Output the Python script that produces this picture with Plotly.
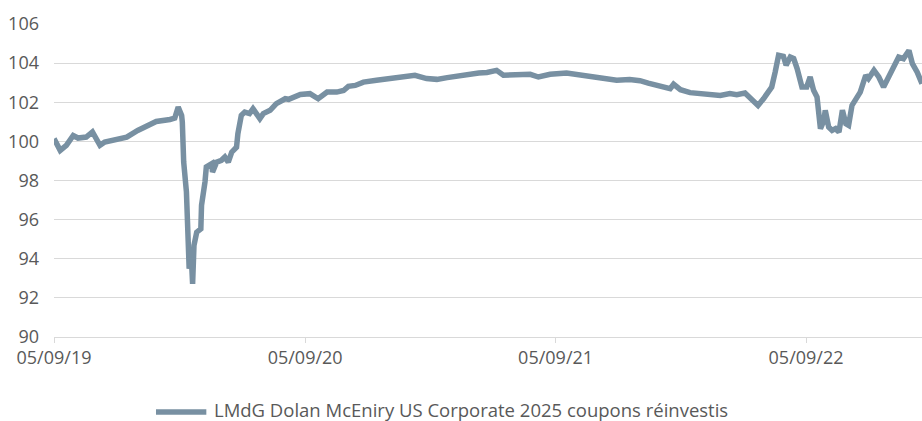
import plotly.graph_objects as go

dates = [
    "2019-09-05", "2019-09-14", "2019-09-23", "2019-10-03", "2019-10-10", "2019-10-22",
    "2019-10-31", "2019-11-11", "2019-11-18", "2019-12-05", "2019-12-20", "2020-01-05",
    "2020-01-23", "2020-02-01", "2020-02-21", "2020-02-28", "2020-03-04", "2020-03-09",
    "2020-03-10", "2020-03-12", "2020-03-16", "2020-03-18", "2020-03-20", "2020-03-23",
    "2020-03-25", "2020-03-27", "2020-03-31", "2020-04-06", "2020-04-07", "2020-04-12",
    "2020-04-14", "2020-04-22", "2020-04-23", "2020-04-29", "2020-05-06", "2020-05-11",
    "2020-05-16", "2020-05-21", "2020-05-28", "2020-05-30", "2020-06-04", "2020-06-09",
    "2020-06-16", "2020-06-21", "2020-07-01", "2020-07-06", "2020-07-16", "2020-07-25",
    "2020-08-07", "2020-08-12", "2020-08-29", "2020-09-12", "2020-09-24", "2020-10-07",
    "2020-10-21", "2020-10-31", "2020-11-07", "2020-11-17", "2020-11-29", "2020-12-18",
    "2021-01-06", "2021-01-26", "2021-02-12", "2021-03-01", "2021-03-16", "2021-03-31",
    "2021-04-19", "2021-05-04", "2021-05-16", "2021-05-28", "2021-06-11", "2021-06-21",
    "2021-07-11", "2021-07-30", "2021-08-11", "2021-08-28", "2021-09-21", "2021-10-06",
    "2021-10-25", "2021-11-14", "2021-12-03", "2021-12-22", "2022-01-06", "2022-01-18",
    "2022-02-04", "2022-02-19", "2022-02-24", "2022-03-06", "2022-03-20", "2022-04-13",
    "2022-05-03", "2022-05-17", "2022-05-27", "2022-06-08", "2022-06-15", "2022-06-27",
    "2022-07-05", "2022-07-10", "2022-07-17", "2022-07-22", "2022-07-27", "2022-08-03",
    "2022-08-07", "2022-08-13", "2022-08-18", "2022-08-23", "2022-08-30", "2022-09-06",
    "2022-09-11", "2022-09-16", "2022-09-21", "2022-09-26", "2022-10-01", "2022-10-03",
    "2022-10-08", "2022-10-13", "2022-10-18", "2022-10-23", "2022-10-28", "2022-11-02",
    "2022-11-06", "2022-11-11", "2022-11-18", "2022-11-23", "2022-12-01", "2022-12-05",
    "2022-12-13", "2022-12-20", "2022-12-27", "2023-01-03", "2023-01-11", "2023-01-18",
    "2023-01-25", "2023-02-02", "2023-02-07", "2023-02-14", "2023-02-21",
]

values = [
    100.14, 99.54, 99.80, 100.30, 100.17, 100.22,
    100.48, 99.80, 99.97, 100.14, 100.22, 100.56,
    100.82, 101.02, 101.12, 101.19, 101.75, 101.33,
    100.99, 98.94, 97.41, 95.19, 93.49, 94.17,
    92.72, 94.68, 95.36, 95.53, 96.73, 97.92,
    98.69, 98.86, 98.43, 98.94, 99.03, 99.20,
    98.94, 99.45, 99.70, 100.39, 101.33, 101.50,
    101.42, 101.67, 101.16, 101.42, 101.59, 101.93,
    102.18, 102.15, 102.40, 102.44, 102.18, 102.52,
    102.52, 102.60, 102.81, 102.86, 103.03, 103.12,
    103.21, 103.26, 103.38, 103.21, 103.17, 103.26,
    103.38, 103.44, 103.50, 103.52, 103.63, 103.38,
    103.43, 103.43, 103.29, 103.43, 103.50, 103.43,
    103.32, 103.26, 103.12, 103.16, 103.10, 102.98,
    102.86, 102.69, 102.92, 102.64, 102.49, 102.44,
    102.35, 102.44, 102.39, 102.47, 102.24, 101.84,
    102.18, 102.44, 102.78, 103.54, 104.40, 104.35,
    103.89, 104.31, 104.23, 103.72, 102.78, 102.78,
    103.29, 102.61, 102.27, 100.65, 101.07, 101.59,
    100.73, 100.56, 100.65, 100.48, 101.59, 100.90,
    100.82, 101.84, 102.27, 102.52, 103.38, 103.21,
    103.63, 103.29, 102.78, 103.29, 103.89, 104.31,
    104.23, 104.65, 103.97, 103.54, 102.95,
]

series_name = "LMdG Dolan McEniry US Corporate 2025 coupons réinvestis"
tick_dates = ["2019-09-05", "2020-09-05", "2021-09-05", "2022-09-05"]
tick_labels = ["05/09/19", "05/09/20", "05/09/21", "05/09/22"]
y_ticks = [90, 92, 94, 96, 98, 100, 102, 104, 106]

LINE_COLOR = "#7890A2"
GRID = "#D9D9D9"
TEXT = "#595959"
FONT = "Open Sans"

fig = go.Figure()
fig.add_trace(go.Scatter(
    x=dates, y=values, mode="lines", name=series_name,
    line=dict(color=LINE_COLOR, width=5.5),
    showlegend=False,
))

# Legend drawn below the plot: a short line sample and the series label
fig.add_shape(
    type="line", xref="paper", yref="paper",
    x0=0.1175, x1=0.1755, y0=-0.2396, y1=-0.2396,
    line=dict(color=LINE_COLOR, width=5.5),
)
fig.add_annotation(
    text=series_name, xref="paper", yref="paper",
    x=0.1820, y=-0.233, xanchor="left", yanchor="middle",
    showarrow=False, font=dict(family=FONT, size=18.5, color=TEXT),
)

fig.update_layout(
    width=922, height=421,
    margin=dict(l=54, r=0, t=24, b=84),
    paper_bgcolor="white", plot_bgcolor="white",
    font=dict(family=FONT, size=18, color=TEXT),
    showlegend=False,
    xaxis=dict(
        type="date", range=[dates[0], dates[-1]],
        tickvals=tick_dates, ticktext=tick_labels,
        showgrid=False, zeroline=False,
        showline=True, linecolor=GRID, linewidth=1,
        ticks="outside", ticklen=5, tickcolor=GRID, tickwidth=1,
        ticklabelstandoff=-1,
        tickfont=dict(family=FONT, size=18, color=TEXT),
    ),
    yaxis=dict(
        range=[90, 106], tickvals=y_ticks,
        showgrid=True, gridcolor=GRID, gridwidth=1,
        zeroline=False, showline=False, ticks="",
        ticklabelstandoff=14,
        tickfont=dict(family=FONT, size=18, color=TEXT),
    ),
)

fig.write_html(
    "out.html",
    config={"displayModeBar": False},
    post_script="document.body.style.margin='0';document.body.style.padding='0';",
)
